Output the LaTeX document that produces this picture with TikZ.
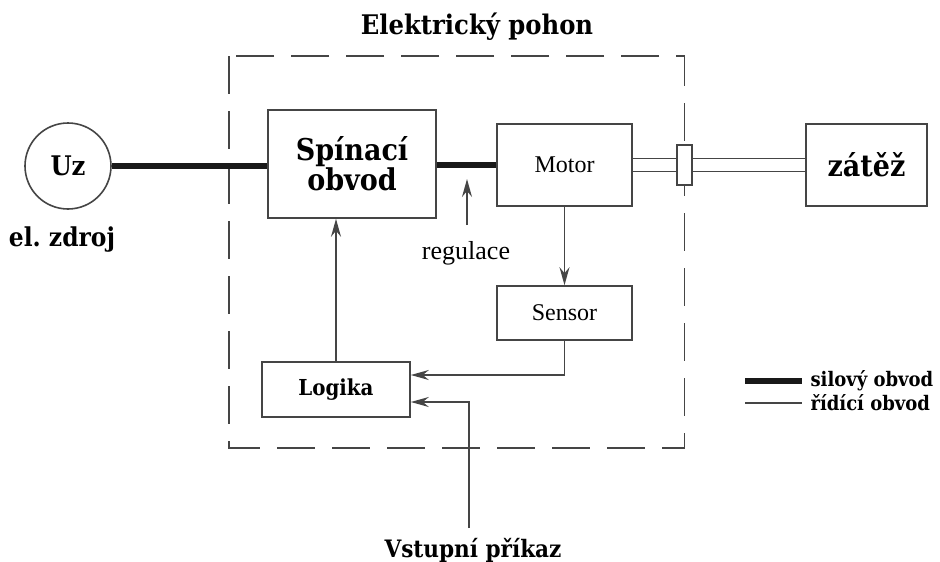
\documentclass[tikz,border=0pt]{standalone}
\usepackage{fontspec}
\setmainfont{Liberation Serif}
\newfontfamily\lab{DejaVu Serif Condensed}
\usetikzlibrary{arrows.meta,calc}
\definecolor{ln}{HTML}{454545}
\tikzset{
  blk/.style={draw=ln, line width=1.6pt, fill=white, inner sep=0pt, align=center},
  bl/.style={font=\lab\bfseries\fontsize{#1}{#1}\selectfont, text=black},
  rg/.style={font=\fontsize{#1}{#1}\selectfont, text=black},
  thin/.style={draw=ln, line width=1.6pt},
  power/.style={draw=black!90, line width=5.5pt},
  arr/.style={thin, -{Stealth[length=18pt,width=10pt,inset=6pt]}},
  frame/.style={draw=ln, line width=1.5pt, dash pattern=on 38pt off 17pt}
}
\begin{document}
\begin{tikzpicture}[x=1pt,y=-1pt]
\useasboundingbox (0,0) rectangle (940,562);
% frame
\draw[frame] (229,56) rectangle (684.5,448);
\node[bl=27] (title) at (477,27) {Elektrický pohon};
% nodes
\node[blk, circle, minimum size=86pt, bl=27] (uz) at (68,166) {Uz};
\node[bl=26] (src) at (62,240) {el.\ zdroj};
\node[blk, minimum width=168pt, minimum height=108pt, bl=30] (spin) at (352,164) {\fontsize{30}{40}\selectfont Spínací\\obvod};
\node[blk, minimum width=135pt, minimum height=82pt, rg=24] (motor) at (564.5,165) {Motor};
\node[blk, minimum width=135pt, minimum height=54pt, rg=24] (sensor) at (564.5,313) {Sensor};
\node[blk, minimum width=148pt, minimum height=55pt, bl=22] (logika) at (336,389.5) {Logika};
\node[blk, minimum width=121pt, minimum height=82pt, bl=30] (zatez) at (866.5,165) {zátěž};
% power lines
\draw[power] (uz.east) -- (uz.east -| spin.west);
\draw[power] (spin.east |- motor.west) -- (motor.west);
% shaft
\draw[thin] ([yshift=6.5pt]motor.east) -- ([yshift=6.5pt]motor.east -| zatez.west);
\draw[thin] ([yshift=-6.5pt]motor.east) -- ([yshift=-6.5pt]motor.east -| zatez.west);
\node[blk, minimum width=15pt, minimum height=40pt] (coup) at (684.5,165) {};
% regulace
\node[rg=26] (reg) at (466,253) {regulace};
\coordinate (regs) at (467,225);
\coordinate (rege) at (467,179);
\draw[arr] (regs) -- (rege);
% control
\draw[arr] (motor.south) -- (sensor.north);
\draw[arr] (sensor.south) |- ([yshift=14.5pt]logika.east);
\coordinate (vin) at (469,528);
\draw[arr] (vin) |- ([yshift=-12.5pt]logika.east);
\draw[arr] (logika.north) -- (logika.north |- spin.south);
\node[bl=24] (cmd) at (473,550) {Vstupní příkaz};
% legend
\coordinate (l1a) at (745,381);
\coordinate (l1b) at (802,381);
\coordinate (l2a) at (745,403);
\coordinate (l2b) at (802,403);
\draw[power] (l1a) -- (l1b);
\draw[thin] (l2a) -- (l2b);
\node[bl=20, anchor=west] (lt1) at (807,381) {silový obvod};
\node[bl=20, anchor=west] (lt2) at (807,403) {řídící obvod};
\end{tikzpicture}
\end{document}
